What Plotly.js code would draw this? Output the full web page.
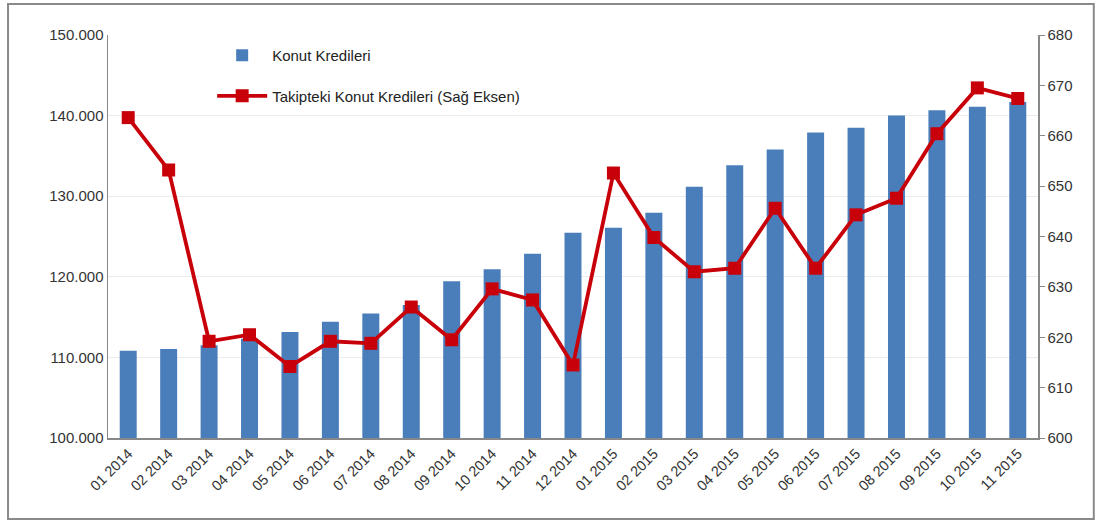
<!DOCTYPE html>
<html>
<head>
<meta charset="utf-8">
<script src="https://cdn.plot.ly/plotly-3.0.1.min.js"></script>
<style>html,body{margin:0;padding:0;background:#fff;}#chart{width:1103px;height:522px;}</style>
</head>
<body>
<div id="chart"></div>
<script>
const categories = ["01 2014","02 2014","03 2014","04 2014","05 2014","06 2014","07 2014","08 2014","09 2014","10 2014","11 2014","12 2014",
  "01 2015","02 2015","03 2015","04 2015","05 2015","06 2015","07 2015","08 2015","09 2015","10 2015","11 2015"];
const konutKredileri = [110830,111030,111500,112300,113140,114420,115450,116500,119460,120950,122850,125470,
  126090,127950,131170,133850,135790,137900,138500,140000,140660,141100,141700];
const takipteki = [663.6,653.2,619.2,620.5,614.2,619.2,618.8,626.0,619.5,629.6,627.4,614.5,
  652.6,639.8,633.0,633.7,645.6,633.7,644.3,647.6,660.4,669.5,667.4];

const fontFam = "Liberation Sans, Arial, sans-serif";
const traces = [
  {type:'bar', x:categories, y:konutKredileri, name:'Konut Kredileri', legendgroup:'a',
   marker:{color:'#4a7ebb'}, yaxis:'y'},
  {type:'scatter', mode:'lines+markers', x:categories, y:takipteki, name:'Takipteki Konut Kredileri (Sağ Eksen)', legendgroup:'b',
   line:{color:'#c8000a', width:3.8}, marker:{symbol:'square', size:13, color:'#c8000a'}, yaxis:'y2'}
];
const layout = {
  width:1103, height:522,
  margin:{l:108, r:65, t:35, b:84},
  paper_bgcolor:'#fff', plot_bgcolor:'#fff',
  separators:',.',
  font:{family:fontFam, size:14, color:'#333'},
  bargap:0.58,
  showlegend:true,
  legend:{x:0.112, y:0.99, xanchor:'left', yanchor:'top', traceorder:'grouped', tracegroupgap:18,
    itemwidth:50, font:{family:fontFam, size:15, color:'#222'}, bgcolor:'rgba(0,0,0,0)'},
  xaxis:{type:'category', tickangle:-45, showgrid:false, showline:true, linecolor:'#888', linewidth:1.5,
    ticks:'', tickfont:{size:14.5, color:'#333'}, range:[-0.5,22.5]},
  yaxis:{range:[100000,150000], dtick:10000, tickformat:',.0f', showline:true, linecolor:'#888', linewidth:1.5,
    showgrid:true, gridcolor:'#ececec', gridwidth:1, zeroline:false, ticks:'', tickfont:{size:15, color:'#333'}},
  yaxis2:{range:[600,680], dtick:10, overlaying:'y', side:'right', showline:true, linecolor:'#888', linewidth:1.5,
    showgrid:false, zeroline:false, ticks:'outside', ticklen:5, tickcolor:'#888', tickfont:{size:15, color:'#333'}},
  shapes:[{type:'rect', xref:'paper', yref:'paper', x0:-0.1075, x1:1.060, y0:-0.201, y1:1.077,
    line:{color:'#8a8a8a', width:2}, fillcolor:'rgba(0,0,0,0)', layer:'below'}]
};
Plotly.newPlot('chart', traces, layout, {displayModeBar:false, staticPlot:true});
</script>
</body>
</html>
